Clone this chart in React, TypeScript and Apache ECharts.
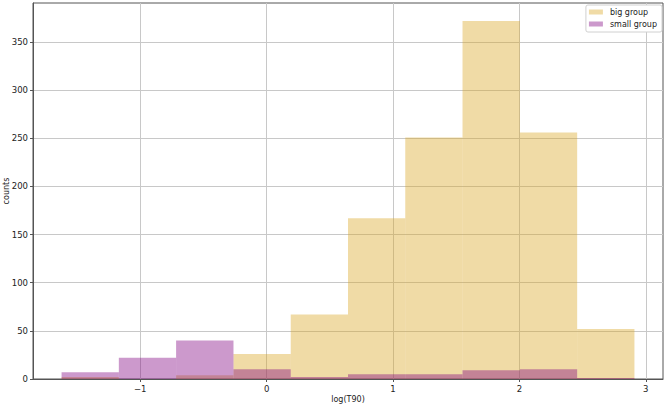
import React, { useEffect, useRef } from 'react';
import * as echarts from 'echarts';

// Histogram bin edges (log(T90)), shared by both groups
const binEdges = [-1.622, -1.169, -0.716, -0.262, 0.191, 0.644, 1.097, 1.55, 2.004, 2.457, 2.91];
const bigGroupCounts = [2, 0, 4, 26, 67, 167, 251, 372, 256, 52];
const smallGroupCounts = [7, 22, 40, 10, 2, 5, 5, 9, 10, 1];
const seriesNames = ['big group', 'small group'];
const xTickValues = [-1, 0, 1, 2, 3];
const yTickValues = [0, 50, 100, 150, 200, 250, 300, 350];
const xRange = [-1.848, 3.136];
const yRange = [0, 390.6];

const FONT = 'DejaVu Sans';

function toBins(counts: number[]) {
  return counts.map((c, i) => [binEdges[i], binEdges[i + 1], c]);
}

const renderItem = (params: any, api: any) => {
  const x0 = api.value(0);
  const x1 = api.value(1);
  const v = api.value(2);
  const p0 = api.coord([x0, v]);
  const p1 = api.coord([x1, 0]);
  return {
    type: 'rect',
    shape: { x: p0[0], y: p0[1], width: p1[0] - p0[0], height: p1[1] - p0[1] },
    style: { fill: api.visual('color') },
  };
};

const fmt = (v: number) => (v < 0 ? '\u2212' + Math.abs(v) : String(v));

export default function App() {
  const ref = useRef<HTMLDivElement>(null);
  useEffect(() => {
    if (!ref.current) return;
    const chart = echarts.init(ref.current, null, { renderer: 'svg' });
    chart.setOption({
      animation: false,
      backgroundColor: '#ffffff',
      grid: {
        left: 33,
        right: 4,
        top: 3,
        bottom: 27,
        containLabel: false,
        outerBoundsMode: 'none',
        show: true,
        borderColor: '#555',
        borderWidth: 1,
        backgroundColor: 'transparent',
      },
      legend: {
        orient: 'vertical',
        right: 5,
        top: 5,
        data: seriesNames.map((n) => ({ name: n, icon: 'rect' })),
        itemWidth: 14,
        itemHeight: 5,
        itemGap: 2,
        padding: [2, 5, 3, 3],
        borderColor: '#d0d0d0',
        borderWidth: 1,
        borderRadius: 2,
        backgroundColor: '#ffffff',
        selectedMode: false,
        textStyle: { fontFamily: FONT, fontSize: 8, color: '#222', lineHeight: 10, padding: [0, 0, 0, 2] },
      },
      xAxis: {
        type: 'value',
        min: xRange[0],
        max: xRange[1],
        name: 'log(T90)',
        nameLocation: 'middle',
        nameGap: 16,
        nameMoveOverlap: false,
        nameTextStyle: { fontFamily: FONT, fontSize: 8, color: '#222' },
        axisLine: { show: true, onZero: false, lineStyle: { color: '#555', width: 1 } },
        axisTick: { show: true, length: 3, customValues: xTickValues, lineStyle: { color: '#555' } },
        axisLabel: {
          customValues: xTickValues,
          formatter: fmt,
          fontFamily: FONT,
          fontSize: 8.5,
          color: '#222',
          margin: 5,
        },
        splitLine: { show: true, lineStyle: { color: '#c8c8c8', width: 1 } },
      },
      yAxis: {
        type: 'value',
        min: yRange[0],
        max: yRange[1],
        interval: 50,
        name: 'counts',
        nameLocation: 'middle',
        nameRotate: 90,
        nameGap: 23,
        nameMoveOverlap: false,
        nameTextStyle: { fontFamily: FONT, fontSize: 8, color: '#222' },
        axisLine: { show: true, onZero: false, lineStyle: { color: '#555', width: 1 } },
        axisTick: { show: true, length: 3, customValues: yTickValues, lineStyle: { color: '#555' } },
        axisLabel: {
          customValues: yTickValues,
          fontFamily: FONT,
          fontSize: 8.5,
          color: '#222',
          margin: 5,
        },
        splitLine: { show: true, lineStyle: { color: '#c8c8c8', width: 1 } },
      },
      series: [
        {
          name: seriesNames[0],
          type: 'custom',
          renderItem,
          clip: true,
          itemStyle: { color: 'rgba(218,165,32,0.4)' },
          encode: { x: [0, 1], y: 2 },
          data: toBins(bigGroupCounts),
        },
        {
          name: seriesNames[1],
          type: 'custom',
          renderItem,
          clip: true,
          itemStyle: { color: 'rgba(128,0,128,0.4)' },
          encode: { x: [0, 1], y: 2 },
          data: toBins(smallGroupCounts),
        },
      ],
    });
    return () => chart.dispose();
  }, []);
  return (
    <div
      ref={ref}
      style={{ position: 'fixed', left: 0, top: 0, width: 667, height: 406 }}
    />
  );
}
